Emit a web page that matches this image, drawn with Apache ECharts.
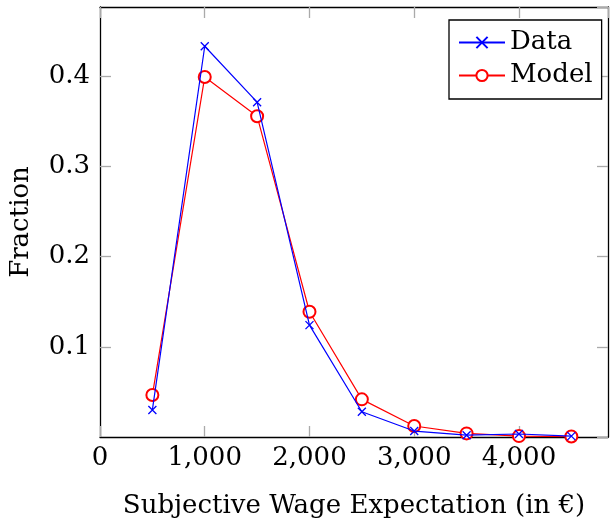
<!DOCTYPE html>
<html>
<head>
<meta charset="utf-8">
<script src="https://cdn.jsdelivr.net/npm/echarts@6/dist/echarts.min.js"></script>
<style>
html,body{margin:0;padding:0;background:#fff;}
#chart{width:610px;height:525px;}
</style>
</head>
<body>
<div id="chart"></div>
<script>
const wages = [500, 1000, 1500, 2000, 2500, 3000, 3500, 4000, 4500];
const dataFraction = [0.030, 0.433, 0.371, 0.124, 0.028, 0.0066, 0.002, 0.0033, 0.001];
const modelFraction = [0.0465, 0.399, 0.3555, 0.1388, 0.0417, 0.0122, 0.004, 0.001, 0.0005];
const xTicks = [0, 1000, 2000, 3000, 4000];
const yTicks = [0.1, 0.2, 0.3, 0.4];

const FONT = 'DejaVu Serif';
const FS = 26;
const chart = echarts.init(document.getElementById('chart'));
const cross = 'path://M0,0L10,10M10,0L0,10';

const xBase = {
  type: 'value', min: 0, max: 4850, interval: 1000,
  axisLine: {show: true, onZero: false, lineStyle: {color: '#000', width: 1.3}},
  axisTick: {show: true, inside: true, length: 11, lineStyle: {color: '#aaa', width: 1.3}},
  splitLine: {show: false}
};
const yBase = {
  type: 'value', min: 0, max: 0.4765, interval: 0.1,
  axisLine: {show: true, onZero: false, lineStyle: {color: '#000', width: 1.3}},
  axisTick: {show: true, inside: true, length: 11, lineStyle: {color: '#aaa', width: 1.3}},
  splitLine: {show: false}
};

chart.setOption({
  animation: false,
  textStyle: {fontFamily: FONT},
  grid: {left: 100, right: 2, top: 7, bottom: 88, outerBoundsMode: 'none', containLabel: false},
  legend: {
    orient: 'vertical', left: 449, top: 20,
    padding: [9, 9, 10, 9], itemGap: 6,
    itemWidth: 46, itemHeight: 14,
    borderColor: '#000', borderWidth: 1.3, borderRadius: 0,
    backgroundColor: '#fff',
    textStyle: {fontFamily: FONT, fontSize: FS, color: '#000', lineHeight: 27},
    data: ['Data', 'Model']
  },
  xAxis: [
    Object.assign({}, xBase, {
      position: 'bottom',
      name: 'Subjective Wage Expectation (in €)', nameLocation: 'middle', nameGap: 56,
      nameTextStyle: {fontFamily: FONT, fontSize: FS, color: '#000'},
      axisLabel: {
        show: true, margin: 8, fontFamily: FONT, fontSize: FS, color: '#000',
        showMaxLabel: false,
        formatter: v => xTicks.includes(v) ? v.toLocaleString('en-US') : ''
      }
    }),
    Object.assign({}, xBase, {position: 'top', axisLabel: {show: false}})
  ],
  yAxis: [
    Object.assign({}, yBase, {
      position: 'left',
      name: 'Fraction', nameLocation: 'middle', nameGap: 66, nameRotate: 90,
      nameTextStyle: {fontFamily: FONT, fontSize: FS, color: '#000'},
      axisLabel: {
        show: true, margin: 10, fontFamily: FONT, fontSize: FS, color: '#000',
        showMinLabel: false, showMaxLabel: false,
        formatter: v => {
          const r = Math.round(v * 10) / 10;
          return yTicks.some(t => Math.abs(t - v) < 1e-9) ? r.toFixed(1) : '';
        }
      }
    }),
    Object.assign({}, yBase, {position: 'right', axisLabel: {show: false}})
  ],
  series: [
    {
      name: 'Data', type: 'line', xAxisIndex: 0, yAxisIndex: 0,
      data: wages.map((w, i) => [w, dataFraction[i]]),
      symbol: cross, symbolSize: 8, showAllSymbol: true,
      lineStyle: {color: '#0000ff', width: 1.2},
      itemStyle: {color: '#0000ff', borderColor: '#0000ff', borderWidth: 1.3},
      z: 3
    },
    {
      name: 'Model', type: 'line', xAxisIndex: 0, yAxisIndex: 0,
      data: wages.map((w, i) => [w, modelFraction[i]]),
      symbol: 'emptyCircle', symbolSize: 12, showAllSymbol: true,
      lineStyle: {color: '#ff0000', width: 1.2},
      itemStyle: {color: '#ff0000', borderColor: '#ff0000', borderWidth: 1.2},
      z: 2
    }
  ]
});
</script>
</body>
</html>
